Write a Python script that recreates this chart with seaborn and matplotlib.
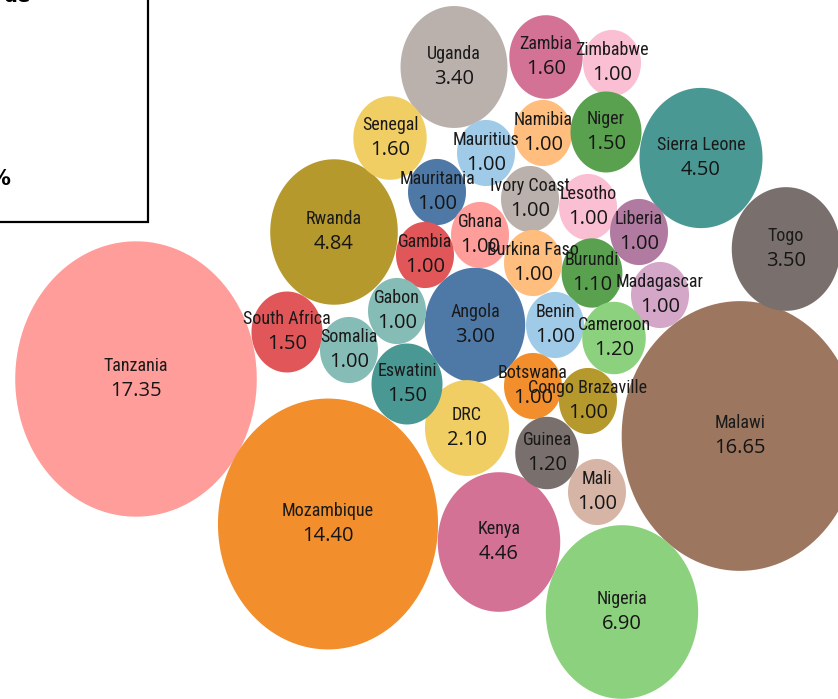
import numpy as np
import pandas as pd
import matplotlib
matplotlib.use("Agg")
import matplotlib.pyplot as plt
from matplotlib.path import Path
from matplotlib.patches import Rectangle
from matplotlib import font_manager
import seaborn as sns

# ---------------- data ----------------
countries = ["Tanzania", "Malawi", "Mozambique", "Nigeria", "Kenya", "Rwanda",
             "Sierra Leone", "Togo", "Uganda", "Angola", "DRC", "Zambia",
             "Zimbabwe", "Senegal", "Mauritius", "Namibia", "Niger", "Mauritania",
             "Ivory Coast", "Lesotho", "Liberia", "Ghana", "Gambia", "Burkina Faso",
             "Burundi", "Madagascar", "South Africa", "Gabon", "Somalia", "Benin",
             "Cameroon", "Eswatini", "Botswana", "Congo Brazaville", "Guinea", "Mali"]
values = [17.35, 16.65, 14.40, 6.90, 4.46, 4.84,
          4.50, 3.50, 3.40, 3.00, 2.10, 1.60,
          1.00, 1.60, 1.00, 1.00, 1.50, 1.00,
          1.00, 1.00, 1.00, 1.00, 1.00, 1.00,
          1.10, 1.00, 1.50, 1.00, 1.00, 1.00,
          1.20, 1.50, 1.00, 1.00, 1.20, 1.00]
# packed-bubble layout (centre of each bubble)
pack_x = [136, 740, 328, 622, 499, 334,
          701, 786, 454, 475, 467, 546,
          612, 390, 486, 543, 606, 437,
          530, 588, 639, 480, 425, 533,
          592, 660, 287, 397, 349, 555,
          614, 407, 533, 588, 547, 597]
pack_y = [379, 436, 524, 612, 542, 232,
          158, 249, 67, 325, 428, 57,
          63, 138, 153, 133, 132, 192,
          199, 207, 232, 235, 255, 263,
          273, 295, 332, 311, 350, 325,
          338, 384, 386, 401, 453, 492]

colors = ["#FF9D9A", "#9D7660", "#F28E2B", "#8CD17D", "#D37295", "#B6992D",
          "#499894", "#79706E", "#BAB0AC", "#4E79A7", "#F1CE63", "#D37295",
          "#FABFD2", "#F1CE63", "#A0CBE8", "#FFBE7D", "#59A14F", "#4E79A7",
          "#BAB0AC", "#FABFD2", "#B07AA1", "#FF9D9A", "#E15759", "#FFBE7D",
          "#59A14F", "#D4A6C8", "#E15759", "#86BCB6", "#86BCB6", "#A0CBE8",
          "#8CD17D", "#499894", "#F28E2B", "#B6992D", "#79706E", "#D7B5A6"]

df = pd.DataFrame({"country": countries, "value": values, "x": pack_x, "y": pack_y})
palette = dict(zip(countries, colors))

# pick a condensed font for the names if one is installed
installed = {f.name for f in font_manager.fontManager.ttflist}
name_font = None
for cand in ["Liberation Sans Narrow", "Roboto Condensed", "DejaVu Sans Condensed",
             "Open Sans Condensed", "Noto Sans Condensed", "Roboto"]:
    if cand in installed:
        name_font = cand
        break
if name_font is None:
    name_font = "DejaVu Sans"
condensed_any = [f for f in font_manager.fontManager.ttflist
                 if f.name == name_font and f.stretch in ("condensed", "semi-condensed",
                                                          "extra-condensed", 625, 750, 500)]
name_stretch = "condensed" if condensed_any else "normal"

# ---------------- figure ----------------
W, H, DPI = 838, 699, 100
fig = plt.figure(figsize=(W / DPI, H / DPI), dpi=DPI)
ax = fig.add_axes([0, 0, 1, 1])

# ellipse marker (reference is slightly stretched vertically)
STRETCH = 1.14
t = np.linspace(0, 2 * np.pi, 120)
verts = np.column_stack([np.cos(t) / STRETCH, np.sin(t)])
ellipse = Path(verts, closed=True)

K = 2266.0  # points^2 per unit of value (bubble area proportional to value)
vmin, vmax = min(values), max(values)

sns.scatterplot(data=df, x="x", y="y", hue="country", palette=palette,
                size="value", sizes=(K * vmin, K * vmax), size_norm=(vmin, vmax),
                marker=ellipse, linewidth=0, legend=False, ax=ax, alpha=1)

ax.set_xlim(0, W)
ax.set_ylim(H, 0)
ax.axis("off")

val_font = ["Open Sans", "DejaVu Sans"]
for c, v, x, y in zip(countries, values, pack_x, pack_y):
    ax.text(x, y - 13, c, ha="center", va="center", fontsize=13,
            family=[name_font, "DejaVu Sans"], fontstretch=name_stretch,
            fontweight="normal", color="#1a1a1a")
    ax.text(x, y + 12, f"{v:.2f}", ha="center", va="center", fontsize=14.5,
            family=val_font, color="#151515")

# partially visible legend box in top-left corner
ax.add_patch(Rectangle((-10, -10), 158, 232, fill=False, edgecolor="black",
                       linewidth=1.6, zorder=5))
ax.text(3, 2, "de", ha="left", va="baseline", fontsize=14, fontweight="bold",
        family="DejaVu Sans", color="black")
ax.text(10, 185, "%", ha="right", va="baseline", fontsize=15, fontweight="bold",
        family="DejaVu Sans", color="black")

fig.savefig("out.png", dpi=DPI, facecolor="white")
